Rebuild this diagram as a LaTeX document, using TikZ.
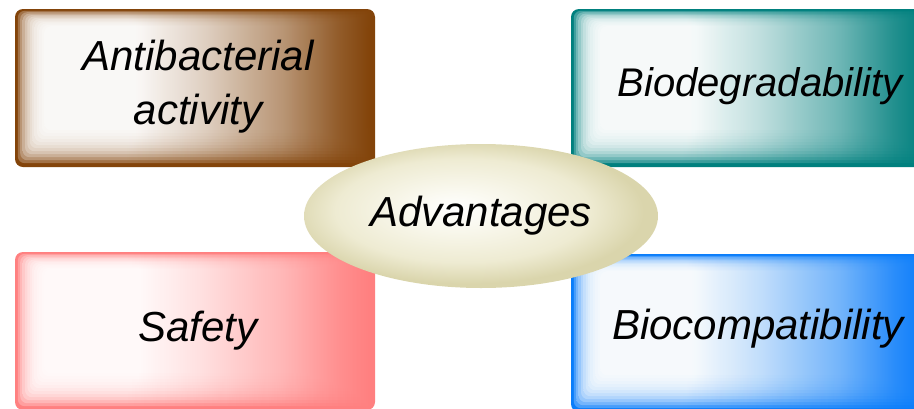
\documentclass[tikz,border=0pt]{standalone}
\usepackage{fontspec}
\setmainfont{Liberation Sans}
\usetikzlibrary{calc,shapes.geometric}

\definecolor{boxbrown}{RGB}{131,68,10}
\definecolor{boxteal}{RGB}{0,128,126}
\definecolor{boxpink}{RGB}{255,128,128}
\definecolor{boxblue}{RGB}{10,125,250}
\definecolor{hubin}{RGB}{250,249,240}
\definecolor{hubmid}{RGB}{238,235,210}
\definecolor{hubout}{RGB}{218,213,172}

% horizontal glow: white on the left, full colour on the right
\newcommand{\declareglow}[2]{%
  \pgfdeclarehorizontalshading{#1}{100bp}{color(0bp)=(white); color(40bp)=(white);
    color(50bp)=(#2!22); color(62bp)=(#2!55); color(70bp)=(#2!85); color(75bp)=(#2);
    color(100bp)=(#2)}}
\declareglow{glowbrown}{boxbrown}
\declareglow{glowteal}{boxteal}
\declareglow{glowpink}{boxpink}
\declareglow{glowblue}{boxblue}

\pgfdeclareradialshading{hubglow}{\pgfpoint{-4bp}{3bp}}{color(0bp)=(white);
  color(6bp)=(hubin); color(18bp)=(hubmid); color(25bp)=(hubout); color(50bp)=(hubout)}

% soft inner highlight of a box, built from stacked translucent layers
\newcommand{\glowlayers}[2]{%
  \foreach \k in {0,...,11}{%
    \shade[shading=#2, fill opacity=0.25, rounded corners=7pt]
      ($(#1.north west)+({3+2.4*\k},{2+1.4*\k})$) rectangle
      ($(#1.south east)+({-1-0.5*\k},{-4-3*\k})$);
  }}

\tikzset{
  boxbase/.style={rectangle, rounded corners=8pt, minimum width=360pt,
    minimum height=158pt, inner sep=0pt},
  boxtext/.style={font=\fontsize{42}{54}\selectfont\itshape, align=center,
    inner sep=0pt, text=black},
  hub/.style={ellipse, minimum width=354pt, minimum height=144pt, inner sep=0pt,
    shading=hubglow, font=\fontsize{42}{54}\selectfont\itshape, text=black},
}

\begin{document}
\begin{tikzpicture}[x=1pt, y=-1pt]
  \useasboundingbox (0,0) rectangle (914,408);
  \clip (0,0) rectangle (914,408);

  % four coloured boxes
  \node[boxbase, fill=boxbrown] (anti) at (195,88) {};
  \glowlayers{anti}{glowbrown}
  \node[boxbase, fill=boxteal] (bio) at (751,88) {};
  \glowlayers{bio}{glowteal}
  \node[boxbase, fill=boxpink] (safe) at (195,331) {};
  \glowlayers{safe}{glowpink}
  \node[boxbase, fill=boxblue] (comp) at (751,333) {};
  \glowlayers{comp}{glowblue}

  % box labels
  \node[boxtext] (antitext) at (198,87) {Antibacterial\\activity};
  \node[boxtext, font=\fontsize{40}{54}\selectfont\itshape] (biotext) at (760,86) {Biodegradability};
  \node[boxtext] (safetext) at (198,331) {Safety};
  \node[boxtext] (comptext) at (758,329) {Biocompatibility};

  % central ellipse
  \node[hub] (adv) at (481,216) {Advantages};
\end{tikzpicture}
\end{document}
